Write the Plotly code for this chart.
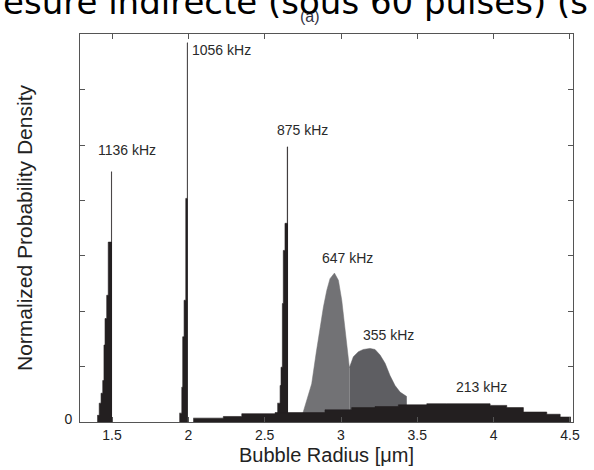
import plotly.graph_objects as go

# ---- data ----
# 1136 kHz histogram: bin edges (um) and densities
r1136 = [1.403, 1.416, 1.428, 1.439, 1.447, 1.454, 1.465, 1.475, 1.489, 1.496, 1.500]
d1136 = [0.12, 0.34, 0.52, 0.75, 1.39, 1.87, 2.29, 3.25, 3.25, 4.52]

# 1056 kHz
r1056 = [1.941, 1.957, 1.963, 1.972, 1.983, 1.993, 1.997]
d1056 = [0.16, 0.63, 1.54, 2.20, 4.04, 6.85]

# 875 kHz
r875 = [2.583, 2.601, 2.607, 2.616, 2.622, 2.633, 2.648, 2.653]
d875 = [0.34, 0.66, 0.99, 2.14, 3.10, 3.59, 4.97]

# 647 kHz (smooth)
r647 = [2.749, 2.776, 2.808, 2.837, 2.863, 2.885, 2.907, 2.928, 2.957,
        2.983, 3.005, 3.027, 3.042, 3.055]
d647 = [0.15, 0.39, 0.69, 1.24, 1.72, 2.08, 2.38, 2.59, 2.69,
        2.56, 2.20, 1.72, 1.30, 0.98]

# 355 kHz (smooth)
r355 = [3.055, 3.081, 3.114, 3.146, 3.190, 3.223, 3.256, 3.289, 3.321,
        3.354, 3.387, 3.420, 3.431]
d355 = [0.98, 1.18, 1.27, 1.31, 1.33, 1.31, 1.21, 1.06, 0.84,
        0.66, 0.54, 0.48, 0.46]

# 213 kHz histogram
r213 = [2.032, 2.229, 2.350, 2.568, 2.895, 3.070, 3.223, 3.376, 3.562,
        3.693, 3.977, 4.086, 4.195, 4.348, 4.436, 4.506]
d213 = [0.07, 0.10, 0.15, 0.17, 0.22, 0.26, 0.28, 0.31, 0.33,
        0.33, 0.30, 0.26, 0.18, 0.14, 0.09]

labels = ["1136 kHz", "1056 kHz", "875 kHz", "647 kHz", "355 kHz", "213 kHz"]
label_r = [1.398, 2.013, 2.566, 2.861, 3.129, 3.739]
label_d = [4.91, 6.72, 5.27, 2.96, 1.57, 0.64]

xticks = [1.5, 2, 2.5, 3, 3.5, 4, 4.5]
xticktext = ["1.5", "2", "2.5", "3", "3.5", "4", "4.5"]
yticks = [0, 1, 2, 3, 4, 5, 6, 7]
yticktext = ["0", "", "", "", "", "", "", ""]

BLACK = "#231f20"
LIGHT = "#727275"
DARK = "#5e5e62"

fig = go.Figure()


def smooth(x, y, color):
    fig.add_trace(go.Scatter(x=x, y=y, mode="lines", fill="tozeroy",
                             fillcolor=color, line=dict(color=color, width=0.5),
                             hoverinfo="skip", showlegend=False))


def steps(edges, vals, color):
    fig.add_trace(go.Scatter(x=edges, y=list(vals) + [vals[-1]], mode="lines",
                             line_shape="hv", fill="tozeroy", fillcolor=color,
                             line=dict(color=color, width=0.6),
                             hoverinfo="skip", showlegend=False))


smooth(r647, d647, LIGHT)
smooth(r355, d355, DARK)
steps(r1136, d1136, BLACK)
steps(r1056, d1056, BLACK)
steps(r875, d875, BLACK)
steps(r213, d213, BLACK)

for t, xr, yd in zip(labels, label_r, label_d):
    fig.add_annotation(x=xr, y=yd, xref="x", yref="y", text=t, showarrow=False,
                       xanchor="left", yanchor="middle",
                       font=dict(family="Liberation Sans, Arial", size=14, color="#2a2a2a"))

# partially visible slide heading and panel tag
fig.add_annotation(x=0.466, y=1.0, xref="paper", yref="paper", yshift=18,
                   text="(a)", showarrow=False, xanchor="center", yanchor="middle",
                   font=dict(family="Liberation Sans, Arial", size=16, color="#333344"))
fig.add_annotation(x=-0.16, y=1.0, xref="paper", yref="paper", yshift=32,
                   text="esure indirecte (sous 60 pulses) (s", showarrow=False,
                   xanchor="left", yanchor="middle",
                   font=dict(family="DejaVu Sans", size=34, color="#000000"))

axis_common = dict(showline=True, linecolor="#555555", linewidth=1, mirror="allticks",
                   ticks="inside", ticklen=5, tickcolor="#555555", showgrid=False,
                   zeroline=False, automargin=False,
                   tickfont=dict(family="Liberation Sans, Arial", size=14, color="#222222"))

fig.update_layout(
    width=594, height=470,
    margin=dict(l=80, r=21, t=34, b=48),
    plot_bgcolor="white", paper_bgcolor="white",
    xaxis=dict(range=[1.29, 4.52], tickvals=xticks, ticktext=xticktext,
               title=dict(text="Bubble Radius [μm]", standoff=6,
                          font=dict(family="Liberation Sans, Arial", size=20, color="#222222")),
               **axis_common),
    yaxis=dict(range=[0, 7.01], tickvals=yticks, ticktext=yticktext,
               ticklabelstandoff=4, ticklabelshift=-3,
               title=dict(text="Normalized Probability Density", standoff=26,
                          font=dict(family="Liberation Sans, Arial", size=21, color="#222222")),
               **axis_common),
)

fig.write_html("out.html")
